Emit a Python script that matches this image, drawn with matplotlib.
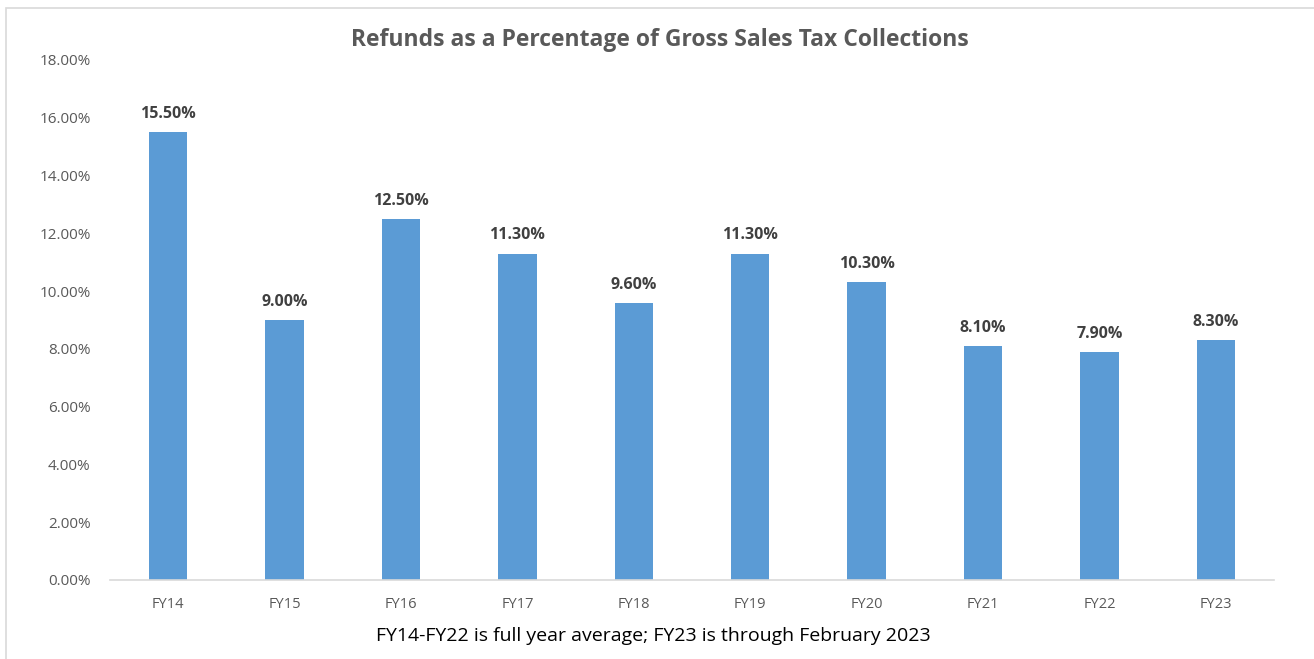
import matplotlib.pyplot as plt
from matplotlib.patches import Rectangle
from matplotlib.ticker import FuncFormatter

years = ["FY14", "FY15", "FY16", "FY17", "FY18", "FY19", "FY20", "FY21", "FY22", "FY23"]
refund_pct = [15.5, 9.0, 12.5, 11.3, 9.6, 11.3, 10.3, 8.1, 7.9, 8.3]
yticks = [0, 2, 4, 6, 8, 10, 12, 14, 16, 18]

plt.rcParams["font.family"] = ["Open Sans", "DejaVu Sans"]

fig = plt.figure(figsize=(13.14, 6.59), dpi=100)
ax = fig.add_axes([0.0837, 0.1199, 0.8859, 0.7891])

x = range(len(years))
ax.bar(x, refund_pct, width=0.33, color="#5b9bd5", zorder=2)

for xi, v in zip(x, refund_pct):
    ax.text(xi, v + 0.35, f"{v:.2f}%", ha="center", va="bottom",
            fontsize=11.5, fontweight="bold", color="#404040")

ax.set_xlim(-0.5, len(years) - 0.5)
ax.set_ylim(0, 18)
ax.set_yticks(yticks)
ax.yaxis.set_major_formatter(FuncFormatter(lambda v, p: f"{v:.2f}%"))
ax.set_xticks(list(x))
ax.set_xticklabels(years)
ax.tick_params(axis="both", length=0, labelsize=11, labelcolor="#595959")
ax.tick_params(axis="x", labelsize=10.5, pad=12)
ax.tick_params(axis="y", pad=14)

for s in ["top", "right", "left"]:
    ax.spines[s].set_visible(False)
ax.spines["bottom"].set_color("#d9d9d9")
ax.spines["bottom"].set_linewidth(1.2)

fig.text(0.502, 0.940, "Refunds as a Percentage of Gross Sales Tax Collections",
         ha="center", va="center", fontsize=16.5, fontweight="bold", color="#595959")
fig.text(0.4975, 0.035, "FY14-FY22 is full year average; FY23 is through February 2023",
         ha="center", va="center", fontsize=14, color="black")

# chart frame
fig.patches.append(Rectangle((6 / 1314, -0.01), 1.02, 1 - 8 / 659 + 0.01,
                             transform=fig.transFigure, fill=False,
                             edgecolor="#d9d9d9", linewidth=1.2))

fig.savefig("out.png", dpi=100)
